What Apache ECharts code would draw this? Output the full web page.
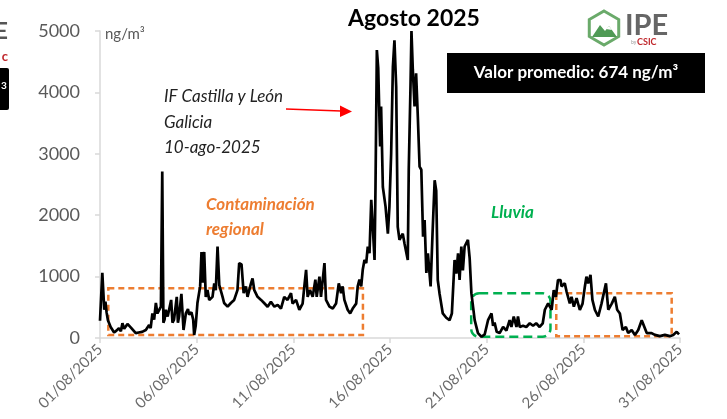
<!DOCTYPE html>
<html>
<head>
<meta charset="utf-8">
<script src="https://cdn.jsdelivr.net/npm/echarts@6.0.0/dist/echarts.min.js"></script>
<style>
	html, body { margin: 0; padding: 0; background: #fff; }
	#main { width: 727px; height: 419px; }
</style>
</head>
<body>
<div id="main"></div>
<script>
//dias desde el 01/08/2025 00:00
var days = [0.00, 0.06, 0.12, 0.18, 0.22, 0.28, 0.34, 0.41, 0.55, 0.73, 0.85, 0.98, 1.08, 1.16, 1.25, 1.33, 1.42, 1.50, 1.60, 1.67, 1.85, 2.00, 2.18, 2.37, 2.54, 2.62, 2.71, 2.80, 2.89, 2.97,
	3.05, 3.15, 3.22, 3.28, 3.34, 3.40, 3.50, 3.58, 3.68, 3.75, 3.83, 3.97, 4.03, 4.09, 4.21, 4.32, 4.44, 4.55, 4.61, 4.73, 4.82, 4.87, 4.95,
	5.04, 5.18, 5.25, 5.31, 5.34, 5.39, 5.47, 5.56, 5.65, 5.82, 5.91, 5.99, 6.08, 6.17, 6.34, 6.42, 6.60, 6.77, 6.94, 7.11, 7.20, 7.32, 7.43, 7.55, 7.63, 7.81, 7.89, 7.98,
	8.15, 8.33, 8.50, 8.67, 8.84, 9.02, 9.19, 9.36, 9.53, 9.70, 9.88, 9.96, 10.14, 10.31, 10.48, 10.57, 10.66, 10.74, 10.86, 11.00, 11.14, 11.21, 11.35, 11.43, 11.61, 11.69, 11.87,
	12.04, 12.21, 12.35, 12.47, 12.55, 12.64, 12.81, 12.94, 13.07, 13.25, 13.33, 13.42, 13.51, 13.59, 13.68, 13.77, 13.85, 13.94, 14.03, 14.11, 14.20, 14.25, 14.32, 14.39, 14.49, 14.54, 14.63, 14.77, 14.89, 14.97,
	15.06, 15.15, 15.23, 15.32, 15.40, 15.49, 15.66, 15.75, 15.92, 15.97, 16.06, 16.11, 16.18, 16.27, 16.35, 16.44, 16.53, 16.62, 16.71, 16.79, 16.88, 16.96, 17.10, 17.20, 17.31, 17.39, 17.47, 17.56, 17.73, 17.91,
	18.08, 18.20, 18.34, 18.43, 18.52, 18.60, 18.69, 18.77, 18.86, 19.03, 19.12, 19.21, 19.38, 19.55, 19.73, 19.90, 20.07, 20.25, 20.33, 20.41, 20.52, 20.67, 20.85, 21.02, 21.19, 21.28, 21.40, 21.54, 21.62, 21.71, 21.88,
	22.05, 22.23, 22.40, 22.56, 22.74, 22.82, 22.90, 23.01, 23.18, 23.36, 23.47, 23.58, 23.69, 23.82, 23.87, 24.04, 24.13, 24.30, 24.39, 24.51, 24.65, 24.82, 24.96, 25.08, 25.16, 25.25, 25.37, 25.47, 25.60, 25.77, 25.94,
	26.17, 26.29, 26.47, 26.63, 26.75, 26.89, 27.03, 27.20, 27.32, 27.50, 27.67, 27.84, 28.02, 28.10, 28.28, 28.53, 28.70, 28.96, 29.22, 29.47, 29.65, 29.83, 29.95];
//ng/m3
var values = [280, 250, 1060, 700, 460, 590, 420, 290, 180, 90, 120, 160, 110, 240, 150, 130, 230, 240, 170, 150, 80, 90, 100, 130, 210, 160, 400, 300, 570, 400,
	380, 510, 2710, 250, 300, 460, 350, 380, 620, 250, 300, 670, 250, 350, 720, 130, 400, 470, 380, 420, 300, 50, 200,
	570, 840, 1400, 900, 1300, 1400, 670, 780, 620, 670, 890, 780, 1490, 860, 670, 570, 510, 570, 620, 780, 1220, 1200, 730, 840, 670, 890, 970, 780,
	670, 620, 565, 510, 590, 510, 540, 480, 670, 620, 730, 560, 620, 460, 560, 840, 1110, 670, 780, 670, 950, 670, 1000, 670, 1220, 620, 510,
	480, 560, 890, 730, 840, 620, 460, 400, 480, 560, 840, 950, 840, 1110, 1270, 1220, 1490, 1380, 2250, 1810, 1270, 2460, 4690, 4400, 3120, 3770, 2460, 2140, 1700, 2140,
	3010, 4420, 4850, 4090, 1810, 1600, 1700, 1540, 1270, 2740, 4090, 5000, 4370, 3770, 4310, 3600, 2790, 2740, 1650, 1920, 1060, 1380, 840, 1700, 2570, 2400, 945, 730, 400, 330,
	290, 400, 1270, 1050, 1380, 945, 1490, 1100, 1490, 1600, 1300, 730, 290, 80, 20, 60, 290, 400, 200, 250, 100, 80, 180, 120, 290, 180, 350, 180, 350, 180, 200,
	180, 240, 200, 240, 180, 160, 240, 460, 565, 460, 780, 670, 945, 945, 840, 890, 760, 565, 670, 510, 650, 456, 560, 840, 1000, 890, 1030, 620, 456, 350, 560,
	890, 460, 560, 670, 460, 400, 130, 180, 80, 130, 50, 130, 290, 320, 80, 80, 50, 30, 50, 30, 50, 100, 60];
//recuadros: [dia inicio, dia fin, valor min, valor max]
var boxRegional1 = [0.43, 13.6, 50, 810];
var boxLluvia = [19.2, 23.3, 20, 730];
var boxRegional2 = [23.6, 29.57, 30, 730];

var lineData = days.map(function(d, i) {
	return [d, values[i]];
});

var font = 'Lato, "Open Sans", sans-serif';
var grey = '#595959';

var option = {
	animation: false,
	grid: {
		left: 100,
		right: 47,
		top: 31,
		bottom: 81,
		containLabel: false,
		outerBoundsMode: 'none'
	},
	xAxis: {
		type: 'value',
		min: 0,
		max: 30,
		interval: 5,
		axisLine: { lineStyle: { color: '#d9d9d9', width: 1.5 } },
		axisTick: { show: true, length: 5, lineStyle: { color: '#d9d9d9', width: 1.5 } },
		splitLine: { show: false },
		axisLabel: {
			rotate: 45,
			margin: 9,
			fontFamily: font,
			fontSize: 15,
			color: '#6b6b6b',
			formatter: function(v) {
				var d = v + 1;
				return (d < 10 ? '0' + d : d) + '/08/2025';
			}
		}
	},
	yAxis: {
		type: 'value',
		min: 0,
		max: 5000,
		interval: 1000,
		axisLine: { show: true, lineStyle: { color: '#d9d9d9', width: 1.5 } },
		axisTick: { show: true, length: 5, lineStyle: { color: '#d9d9d9', width: 1.5 } },
		splitLine: { show: false },
		axisLabel: {
			margin: 20,
			fontFamily: font,
			fontSize: 18,
			color: grey,
			formatter: function(v) {
				return String(v);
			}
		}
	},
	series: [{
		type: 'line',
		data: lineData,
		showSymbol: false,
		lineStyle: { color: '#000', width: 2.7 },
		z: 5
	}]
};

var chart = echarts.init(document.getElementById('main'));
chart.setOption(option);

//recuadro a partir de la escala del grafico
function boxRect(b, color, dash, r) {
	var p1 = chart.convertToPixel({ gridIndex: 0 }, [b[0], b[3]]);
	var p2 = chart.convertToPixel({ gridIndex: 0 }, [b[1], b[2]]);
	return {
		type: 'rect',
		shape: { x: p1[0], y: p1[1], width: p2[0] - p1[0], height: p2[1] - p1[1], r: r },
		style: { fill: 'none', stroke: color, lineWidth: 2.5, lineDash: dash },
		z: 3
	};
}

function txt(x, y, s, f, color, align) {
	return {
		type: 'text',
		x: x,
		y: y,
		style: { text: s, font: f, fill: color, align: align || 'left', verticalAlign: 'middle' },
		z: 10
	};
}

//hexagono del logo
var hex = [];
for(var i = 0; i < 6; i++) {
	var a = (-90 + i * 60) * Math.PI / 180;
	hex.push([604 + 17 * Math.cos(a), 28 + 17 * Math.sin(a)]);
}

var graphics = [
	boxRect(boxRegional1, '#ED7D31', [6, 4], 0),
	boxRect(boxLluvia, '#00B050', [9, 5], 8),
	boxRect(boxRegional2, '#ED7D31', [6, 4], 0),
	//titulo
	txt(414, 19, 'Agosto 2025', 'bold 23px ' + font, '#000', 'center'),
	//valor promedio
	{
		type: 'rect',
		shape: { x: 447, y: 53, width: 258, height: 40 },
		style: { fill: '#000' },
		z: 9
	},
	txt(576, 73, 'Valor promedio: 674 ng/m³', 'bold 17px ' + font, '#fff', 'center'),
	//logo IPE
	{
		type: 'polygon',
		shape: { points: hex },
		style: { fill: '#fff', stroke: '#6aaa6a', lineWidth: 3 },
		z: 9
	},
	{
		type: 'polygon',
		shape: { points: [[592, 37], [600, 25], [605, 31], [609, 26], [617, 37]] },
		style: { fill: '#4f9a55' },
		z: 10
	},
	{
		type: 'polygon',
		shape: { points: [[606, 29], [609, 26], [612, 30]] },
		style: { fill: '#fff' },
		z: 11
	},
	txt(625, 26, 'IPE', 'bold 29px "Liberation Sans Narrow", ' + font, '#666'),
	txt(631, 42, 'by', '5px ' + font, '#999'),
	txt(637, 42, 'CSIC', 'bold 9px ' + font, '#c0282d'),
	//fragmento a la izquierda
	txt(8, 32, 'E', 'bold 22px ' + font, '#555', 'right'),
	txt(8, 57, 'c', 'bold 13px ' + font, '#c0282d', 'right'),
	{
		type: 'rect',
		shape: { x: -10, y: 68, width: 19, height: 42, r: 2 },
		style: { fill: '#000' },
		z: 9
	},
	txt(1, 86, '3', 'bold 10px ' + font, '#fff'),
	//unidades
	txt(105, 34, 'ng/m³', '15px ' + font, grey),
	//anotaciones
	txt(164, 97, 'IF Castilla y León', 'italic 17px ' + font, '#222'),
	txt(164, 123, 'Galicia', 'italic 17px ' + font, '#222'),
	txt(164, 148, '10-ago-2025', 'italic 17px ' + font, '#222'),
	{
		type: 'line',
		shape: { x1: 286, y1: 109, x2: 341, y2: 111 },
		style: { stroke: '#ff0000', lineWidth: 1.5 },
		z: 10
	},
	{
		type: 'polygon',
		shape: { points: [[340, 105.5], [352, 111.5], [340, 117]] },
		style: { fill: '#ff0000' },
		z: 10
	},
	txt(206, 205, 'Contaminación', 'italic bold 17px ' + font, '#ED7D31'),
	txt(206, 230, 'regional', 'italic bold 17px ' + font, '#ED7D31'),
	txt(491, 213, 'Lluvia', 'italic bold 17px ' + font, '#00B050')
];

chart.setOption({ graphic: graphics });
</script>
</body>
</html>
